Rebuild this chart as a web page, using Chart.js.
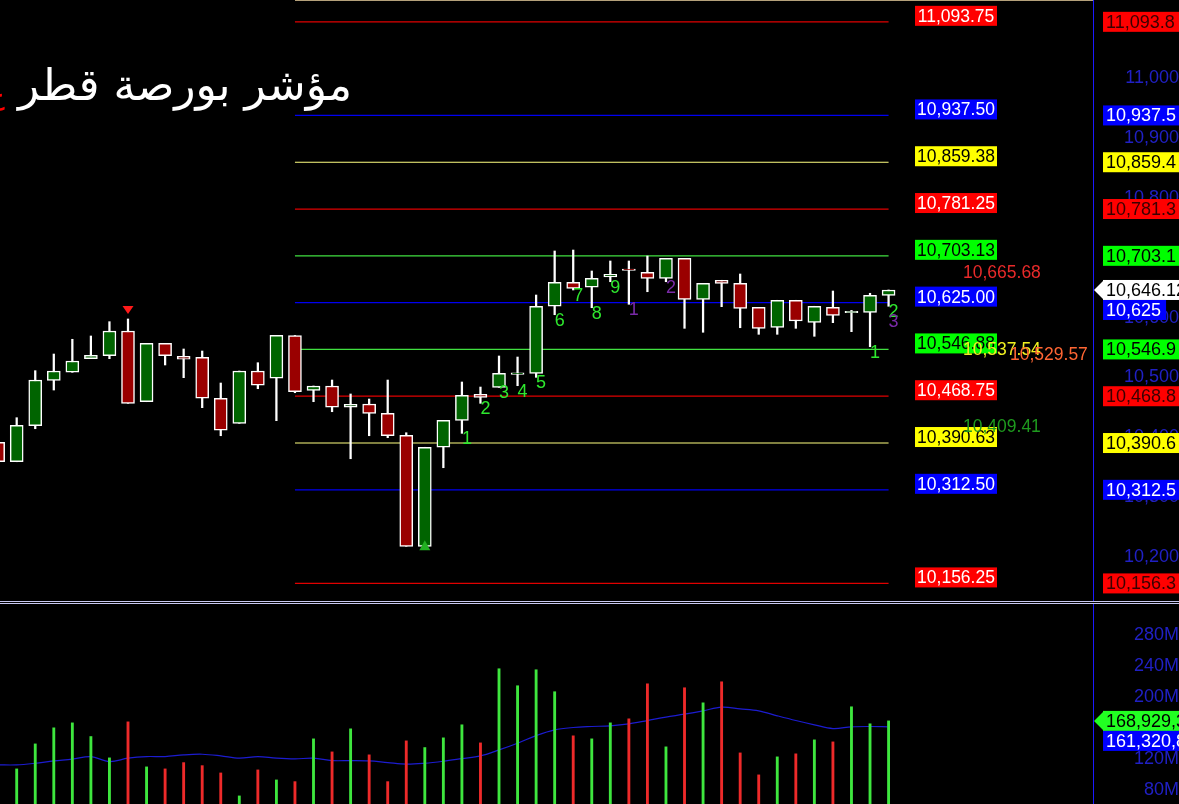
<!DOCTYPE html>
<html>
<head>
<meta charset="utf-8">
<title>مؤشر بورصة قطر</title>
<script src="https://cdn.jsdelivr.net/npm/chart.js@4.4.1/dist/chart.umd.min.js"></script>
<style>
    html, body { margin: 0; padding: 0; background: #000; overflow: hidden; }
    #wrap { position: relative; width: 1179px; height: 804px; background: #000; }
    canvas { position: absolute; left: 0; }
    #price { top: 0; }
    #vol { top: 604px; }
    .sep { position: absolute; left: 0; width: 1179px; height: 1px; background: #c8c8f0; }
</style>
</head>
<body>
<div id="wrap">
    <canvas id="price" width="1179" height="601"></canvas>
    <div class="sep" style="top:601px"></div>
    <div class="sep" style="top:603px"></div>
    <canvas id="vol" width="1179" height="200"></canvas>
</div>
<script>
var titleText = 'مؤشر بورصة قطر';

// daily candles, oldest first (index 0 is cut by the left edge)
var opens  = [10391.8, 10359.4, 10419.5, 10495.3, 10508.7, 10531.4, 10536.4, 10577.6, 10459.6, 10557.1,
              10535.4, 10533.7, 10465.3, 10423.5, 10510.8, 10498.7, 10570.1, 10478.6, 10485.8, 10450.3,
              10455.8, 10440.2, 10403.5, 10218.2, 10383.5, 10428.5, 10472.0, 10483.6, 10505.2, 10507.0,
              10618.9, 10658.9, 10650.6, 10667.8, 10681.2, 10675.6, 10665.6, 10699.0, 10630.5, 10662.3,
              10657.2, 10617.2, 10583.8, 10628.9, 10592.1, 10617.2, 10608.2, 10608.8, 10637.2];
var highs  = [10396.0, 10432.9, 10511.4, 10539.2, 10563.8, 10569.3, 10593.2, 10597.7, 10557.1, 10557.1,
              10547.6, 10544.2, 10490.8, 10510.8, 10524.7, 10570.4, 10570.1, 10485.8, 10495.8, 10472.5,
              10464.1, 10495.8, 10407.8, 10383.5, 10428.5, 10492.5, 10484.1, 10535.9, 10534.2, 10637.7,
              10711.2, 10712.8, 10677.8, 10694.5, 10694.5, 10702.8, 10699.0, 10699.0, 10657.2, 10662.3,
              10672.8, 10617.2, 10628.9, 10628.9, 10618.9, 10644.4, 10612.0, 10640.6, 10646.1];
var lows   = [10355.0, 10359.4, 10414.5, 10479.1, 10508.7, 10531.4, 10531.4, 10456.9, 10459.6, 10520.9,
              10499.7, 10449.6, 10402.8, 10423.5, 10481.3, 10427.9, 10474.6, 10459.6, 10442.9, 10364.4,
              10402.8, 10399.5, 10218.2, 10218.2, 10349.4, 10406.8, 10456.9, 10483.6, 10486.3, 10500.3,
              10604.8, 10646.1, 10616.5, 10659.9, 10622.2, 10643.2, 10659.9, 10582.1, 10575.5, 10618.2,
              10583.1, 10572.1, 10572.1, 10582.1, 10568.8, 10591.5, 10576.5, 10551.4, 10618.9];
var closes = [10359.4, 10420.2, 10495.8, 10510.8, 10527.5, 10537.1, 10577.6, 10456.9, 10557.1, 10536.4,
              10530.4, 10465.3, 10411.9, 10510.8, 10487.0, 10570.4, 10476.3, 10485.8, 10450.3, 10455.3,
              10440.2, 10402.8, 10218.2, 10383.5, 10428.5, 10470.3, 10466.9, 10507.0, 10507.6, 10618.9,
              10658.9, 10648.9, 10665.6, 10672.3, 10678.8, 10665.6, 10699.0, 10630.5, 10657.2, 10657.2,
              10615.5, 10582.1, 10628.9, 10594.3, 10618.9, 10603.8, 10610.6, 10637.2, 10646.12];

// volume in millions and its moving average
var volumes   = [115.0, 107.1, 139.3, 160.0, 166.4, 148.8, 121.3, 167.7, 109.7, 107.1,
                 115.2, 111.3, 101.9, 72.3, 105.8, 92.9, 90.7, 145.8, 129.0, 158.7,
                 125.2, 90.7, 143.2, 134.6, 147.1, 163.9, 140.6, 236.1, 214.2, 234.8,
                 206.5, 149.7, 145.8, 166.4, 171.6, 216.7, 135.5, 211.6, 192.2, 219.3,
                 127.7, 99.4, 122.6, 126.5, 144.5, 141.9, 187.1, 165.2, 168.929312];
var volumeAvg = [112.3, 112.3, 114.4, 117.4, 119.6, 123.0, 116.5, 120.9, 123.0, 123.0,
                 125.2, 126.0, 123.9, 120.9, 123.0, 120.9, 120.0, 120.9, 117.8, 117.8,
                 117.4, 115.2, 113.2, 114.4, 117.0, 120.4, 123.9, 131.6, 140.2, 150.0,
                 157.4, 160.4, 161.7, 162.6, 165.1, 169.4, 173.8, 177.6, 181.9, 186.7,
                 184.5, 181.9, 175.5, 169.4, 163.9, 159.1, 161.3, 161.7, 161.320845];

// horizontal levels and their colour group
var levels     = [11093.75, 10937.5, 10859.375, 10781.25, 10703.125, 10625, 10546.875, 10468.75, 10390.625, 10312.5, 10156.25];
var levelKinds = ['red', 'blue', 'yellow', 'red', 'green', 'blue', 'green', 'red', 'yellow', 'blue', 'red'];
var levelFrom = 16, levelTo = 48;

var indicatorValues = [10665.68, 10537.54, 10529.57, 10409.41];

// sequence counts under candles
var countLabels = [
    {i: 25, t: '1', c: 'g'}, {i: 26, t: '2', c: 'g'}, {i: 27, t: '3', c: 'g'}, {i: 28, t: '4', c: 'g'},
    {i: 29, t: '5', c: 'g'}, {i: 30, t: '6', c: 'g'}, {i: 31, t: '7', c: 'g'}, {i: 32, t: '8', c: 'g'},
    {i: 33, t: '9', c: 'g'}, {i: 34, t: '1', c: 'p'}, {i: 36, t: '2', c: 'p'}, {i: 47, t: '1', c: 'g'},
    {i: 48, t: '2', c: 'g'}, {i: 48, t: '3', c: 'p'}
];
var signals = [{i: 7, dir: 'down'}, {i: 23, dir: 'up'}];

var priceTicks  = [10200, 10300, 10400, 10500, 10600, 10700, 10800, 10900, 11000];
var volumeTicks = [80, 120, 160, 200, 240, 280];

var FONT = '"Liberation Sans", Arial, sans-serif';
var X_MIN = 0.1, X_MAX = 59.02;
var AXIS_W = 86;

var palette = {
    red:    {line: '#e00000', box: '#ff0000', text: '#ffffff', axisText: '#3a0000'},
    blue:   {line: '#0000f0', box: '#0000ff', text: '#ffffff', axisText: '#ffffff'},
    yellow: {line: '#ffff80', box: '#ffff00', text: '#000000', axisText: '#000000'},
    green:  {line: '#40e040', box: '#00ff00', text: '#000000', axisText: '#000000'}
};

function fmt(v, minD, maxD) {
    return v.toLocaleString('en-US', {minimumFractionDigits: minD, maximumFractionDigits: maxD});
}

// boxes on the right axis, pushed down when they would overlap
function drawAxisBoxes(ctx, boxes) {
    boxes.sort(function (a, b) { return a.y - b.y; });
    let prev = -100;
    ctx.font = '18px ' + FONT;
    boxes.forEach(function (b) {
        let y = Math.max(b.y, prev + 20);
        prev = y;
        let w = ctx.measureText(b.text).width + 8;
        ctx.fillStyle = b.bg;
        ctx.fillRect(1103, y - 10, w, 20);
        if (b.arrow) {
            ctx.beginPath();
            ctx.moveTo(1094, y);
            ctx.lineTo(1104, y - 10);
            ctx.lineTo(1104, y + 10);
            ctx.closePath();
            ctx.fill();
        }
        ctx.fillStyle = b.fg;
        ctx.textAlign = 'left';
        ctx.textBaseline = 'middle';
        ctx.fillText(b.text, 1106, y + 1);
    });
}

var idx = opens.map(function (_, i) { return i; });
var upDay = idx.map(function (i) { return closes[i] >= opens[i]; });

var priceOverlay = {
    id: 'priceOverlay',
    afterDatasetsDraw(chart) {
        let ctx = chart.ctx, x = chart.scales.x, y = chart.scales.y;
        ctx.save();
        ctx.font = '18px ' + FONT;
        ctx.textAlign = 'left';
        ctx.textBaseline = 'middle';
        let seen = {};
        countLabels.forEach(function (l) {
            let k = seen[l.i] || 0;
            seen[l.i] = k + 1;
            ctx.fillStyle = l.c === 'g' ? '#2ee82e' : '#7a2aa8';
            ctx.fillText(l.t, x.getPixelForValue(l.i), y.getPixelForValue(lows[l.i]) + 6 + k * 10);
        });
        signals.forEach(function (s) {
            let cx = x.getPixelForValue(s.i);
            ctx.beginPath();
            if (s.dir === 'down') {
                let top = y.getPixelForValue(highs[s.i]) - 13;
                ctx.moveTo(cx - 5.5, top);
                ctx.lineTo(cx + 5.5, top);
                ctx.lineTo(cx, top + 8);
                ctx.fillStyle = '#ff1a1a';
            } else {
                let base = y.getPixelForValue(lows[s.i]) + 4;
                ctx.moveTo(cx - 5.5, base);
                ctx.lineTo(cx + 5.5, base);
                ctx.lineTo(cx, base - 10);
                ctx.fillStyle = '#22b022';
            }
            ctx.closePath();
            ctx.fill();
        });
        ctx.restore();
    },
    afterDraw(chart) {
        let ctx = chart.ctx, y = chart.scales.y;
        ctx.save();

        ctx.strokeStyle = '#b4a07a';
        ctx.lineWidth = 1;
        ctx.beginPath();
        ctx.moveTo(295, 0.5);
        ctx.lineTo(1093, 0.5);
        ctx.stroke();

        ctx.font = '44px "DejaVu Sans", sans-serif';
        ctx.textBaseline = 'alphabetic';
        ctx.textAlign = 'right';
        ctx.fillStyle = '#ffffff';
        ctx.fillText(titleText, 352, 100);
        ctx.font = '30px "DejaVu Sans", sans-serif';
        ctx.fillStyle = '#ff0000';
        ctx.fillText('ع', 5, 104);

        ctx.font = '17.5px ' + FONT;
        ctx.textAlign = 'center';
        levels.forEach(function (v, n) {
            let p = palette[levelKinds[n]];
            let py = y.getPixelForValue(v);
            ctx.fillStyle = p.box;
            ctx.fillRect(915, py - 16, 82, 20);
            ctx.fillStyle = p.text;
            ctx.fillText(fmt(v, 2, 2), 956, py);
        });

        let indColors = ['#e82a2a', '#f0f020', '#ff6633', '#1e9a1e'];
        let indX = [963, 963, 1010, 963];
        ctx.textAlign = 'left';
        indicatorValues.forEach(function (v, n) {
            ctx.fillStyle = indColors[n];
            ctx.fillText(fmt(v, 2, 2), indX[n], y.getPixelForValue(v));
        });

        let boxes = levels.map(function (v, n) {
            let p = palette[levelKinds[n]];
            return {y: y.getPixelForValue(v), text: fmt(v, 0, 1), bg: p.box, fg: p.axisText};
        });
        let last = closes[closes.length - 1];
        boxes.push({y: y.getPixelForValue(last), text: fmt(last, 2, 2), bg: '#ffffff', fg: '#000000', arrow: true});
        drawAxisBoxes(ctx, boxes);
        ctx.restore();
    }
};

var volumeOverlay = {
    id: 'volumeOverlay',
    afterDraw(chart) {
        let ctx = chart.ctx, y = chart.scales.y;
        let lastV = volumes[volumes.length - 1], lastA = volumeAvg[volumeAvg.length - 1];
        ctx.save();
        drawAxisBoxes(ctx, [
            {y: y.getPixelForValue(lastV), text: Math.round(lastV * 1e6).toLocaleString('en-US'), bg: '#22ff22', fg: '#000000', arrow: true},
            {y: y.getPixelForValue(lastA) + 0.5, text: Math.round(lastA * 1e6).toLocaleString('en-US'), bg: '#0000ff', fg: '#ffffff'}
        ]);
        ctx.restore();
    }
};

function rightAxis(min, max, tickValues, pad, cb) {
    return {
        type: 'linear',
        position: 'right',
        min: min,
        max: max,
        grid: {display: false, drawTicks: false},
        border: {display: true, color: '#1a1aff', width: 1},
        ticks: {
            autoSkip: false,
            crossAlign: 'far',
            padding: pad,
            color: '#2020c4',
            font: {family: FONT, size: 18},
            callback: cb
        },
        afterBuildTicks: function (s) {
            s.ticks = tickValues.map(function (v) { return {value: v}; });
        },
        afterFit: function (s) {
            s.width = AXIS_W;
            s.paddingTop = 0;
            s.paddingBottom = 0;
        }
    };
}

var baseOptions = function (yScale) {
    return {
        responsive: false,
        animation: false,
        events: [],
        layout: {padding: 0},
        plugins: {legend: {display: false}, tooltip: {enabled: false}},
        scales: {
            x: {type: 'linear', min: X_MIN, max: X_MAX, display: false, offset: false},
            y: yScale
        }
    };
};

var levelSets = levels.map(function (v, n) {
    return {
        type: 'line',
        data: [{x: levelFrom, y: v}, {x: levelTo, y: v}],
        borderColor: palette[levelKinds[n]].line,
        borderWidth: 1.2,
        pointRadius: 0,
        order: 2
    };
});

new Chart(document.getElementById('price'), {
    type: 'bar',
    data: {
        datasets: [{
            label: 'body',
            data: idx.map(function (i) { return {x: i, y: [opens[i], closes[i]]}; }),
            backgroundColor: idx.map(function (i) { return upDay[i] ? '#006400' : '#9a0000'; }),
            borderColor: '#ffffff',
            borderWidth: 1.5,
            borderSkipped: false,
            barThickness: 13,
            grouped: false,
            order: 0
        }, {
            label: 'wick',
            data: idx.map(function (i) { return {x: i, y: [lows[i], highs[i]]}; }),
            backgroundColor: '#ffffff',
            borderWidth: 0,
            barThickness: 1.6,
            grouped: false,
            order: 1
        }].concat(levelSets)
    },
    options: baseOptions(rightAxis(10126.9, 11130.2, priceTicks, 28, function (v) { return v.toLocaleString('en-US'); })),
    plugins: [priceOverlay]
});

new Chart(document.getElementById('vol'), {
    type: 'bar',
    data: {
        datasets: [{
            label: 'volume',
            data: idx.map(function (i) { return {x: i, y: volumes[i]}; }),
            backgroundColor: idx.map(function (i) { return upDay[i] ? '#3ee63e' : '#ee2a2a'; }),
            barThickness: 2.2,
            grouped: false,
            order: 0
        }, {
            type: 'line',
            label: 'average',
            data: idx.map(function (i) { return {x: i, y: volumeAvg[i]}; }),
            borderColor: '#1c1cd0',
            borderWidth: 1.2,
            pointRadius: 0,
            tension: 0.35,
            order: 1
        }]
    },
    options: baseOptions(rightAxis(61.9, 319.5, volumeTicks, 38, function (v) { return v + 'M'; })),
    plugins: [volumeOverlay]
});
</script>
</body>
</html>
